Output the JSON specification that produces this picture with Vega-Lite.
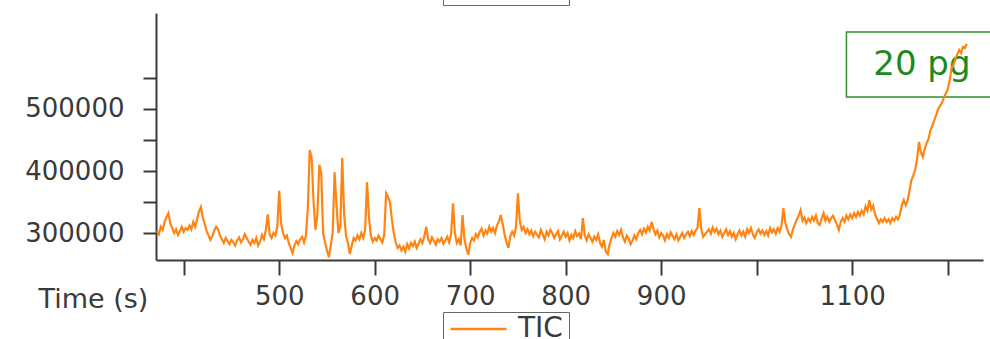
{
  "$schema": "https://vega.github.io/schema/vega-lite/v6.json",
  "width": 827,
  "height": 247,
  "autosize": {"type": "none"},
  "padding": {"left": 156, "top": 13, "right": 7, "bottom": 79},
  "background": "white",
  "config": {"view": {"stroke": null}, "font": "DejaVu Sans"},
  "datasets": {
    "tic": [
      {"t":372,"v":303000},{"t":374,"v":298000},{"t":376,"v":310000},{"t":378,"v":305000},{"t":380,"v":318000},{"t":382,"v":326000},{"t":384,"v":332000},{"t":386,"v":315000},{"t":388,"v":308000},{"t":390,"v":300000},
      {"t":392,"v":306000},{"t":394,"v":297000},{"t":396,"v":303000},{"t":398,"v":310000},{"t":400,"v":302000},{"t":402,"v":308000},{"t":404,"v":305000},{"t":406,"v":312000},{"t":408,"v":306000},{"t":410,"v":318000},
      {"t":412,"v":310000},{"t":414,"v":322000},{"t":416,"v":335000},{"t":418,"v":342000},{"t":420,"v":325000},{"t":422,"v":315000},{"t":424,"v":303000},{"t":426,"v":296000},{"t":428,"v":289000},{"t":430,"v":295000},
      {"t":432,"v":304000},{"t":434,"v":310000},{"t":436,"v":306000},{"t":438,"v":296000},{"t":440,"v":290000},{"t":442,"v":284000},{"t":444,"v":292000},{"t":446,"v":287000},{"t":448,"v":282000},{"t":450,"v":289000},
      {"t":452,"v":285000},{"t":454,"v":280000},{"t":456,"v":288000},{"t":458,"v":293000},{"t":460,"v":285000},{"t":462,"v":290000},{"t":464,"v":298000},{"t":466,"v":292000},{"t":468,"v":286000},{"t":470,"v":281000},
      {"t":472,"v":289000},{"t":474,"v":284000},{"t":476,"v":292000},{"t":478,"v":280000},{"t":480,"v":286000},{"t":482,"v":297000},{"t":484,"v":290000},{"t":486,"v":305000},{"t":488,"v":330000},{"t":490,"v":298000},
      {"t":492,"v":292000},{"t":494,"v":300000},{"t":496,"v":296000},{"t":498,"v":310000},{"t":500,"v":368000},{"t":502,"v":315000},{"t":504,"v":300000},{"t":506,"v":292000},{"t":508,"v":296000},{"t":510,"v":284000},
      {"t":512,"v":276000},{"t":514,"v":268000},{"t":516,"v":280000},{"t":518,"v":287000},{"t":520,"v":282000},{"t":522,"v":290000},{"t":524,"v":294000},{"t":526,"v":285000},{"t":528,"v":296000},{"t":530,"v":340000},
      {"t":532,"v":434000},{"t":534,"v":421000},{"t":536,"v":350000},{"t":538,"v":305000},{"t":540,"v":330000},{"t":542,"v":410000},{"t":544,"v":397000},{"t":546,"v":300000},{"t":548,"v":285000},{"t":550,"v":272000},
      {"t":552,"v":261000},{"t":554,"v":280000},{"t":556,"v":300000},{"t":558,"v":398000},{"t":560,"v":345000},{"t":562,"v":300000},{"t":564,"v":310000},{"t":566,"v":421000},{"t":568,"v":330000},{"t":570,"v":295000},
      {"t":572,"v":284000},{"t":574,"v":266000},{"t":576,"v":280000},{"t":578,"v":292000},{"t":580,"v":288000},{"t":582,"v":296000},{"t":584,"v":290000},{"t":586,"v":300000},{"t":588,"v":292000},{"t":590,"v":305000},
      {"t":592,"v":382000},{"t":594,"v":325000},{"t":596,"v":296000},{"t":598,"v":286000},{"t":600,"v":292000},{"t":602,"v":288000},{"t":604,"v":296000},{"t":606,"v":290000},{"t":608,"v":285000},{"t":610,"v":298000},
      {"t":612,"v":364000},{"t":614,"v":358000},{"t":616,"v":350000},{"t":618,"v":322000},{"t":620,"v":300000},{"t":622,"v":285000},{"t":624,"v":276000},{"t":626,"v":280000},{"t":628,"v":272000},{"t":630,"v":278000},
      {"t":632,"v":270000},{"t":634,"v":282000},{"t":636,"v":275000},{"t":638,"v":284000},{"t":640,"v":279000},{"t":642,"v":286000},{"t":644,"v":276000},{"t":646,"v":283000},{"t":648,"v":290000},{"t":650,"v":284000},
      {"t":652,"v":295000},{"t":654,"v":310000},{"t":656,"v":290000},{"t":658,"v":284000},{"t":660,"v":293000},{"t":662,"v":287000},{"t":664,"v":281000},{"t":666,"v":290000},{"t":668,"v":286000},{"t":670,"v":292000},
      {"t":672,"v":283000},{"t":674,"v":288000},{"t":676,"v":294000},{"t":678,"v":285000},{"t":680,"v":298000},{"t":682,"v":348000},{"t":684,"v":300000},{"t":686,"v":284000},{"t":688,"v":290000},{"t":690,"v":280000},
      {"t":692,"v":329000},{"t":694,"v":290000},{"t":696,"v":275000},{"t":698,"v":265000},{"t":700,"v":284000},{"t":702,"v":292000},{"t":704,"v":288000},{"t":706,"v":298000},{"t":708,"v":293000},{"t":710,"v":302000},
      {"t":712,"v":307000},{"t":714,"v":296000},{"t":716,"v":304000},{"t":718,"v":299000},{"t":720,"v":310000},{"t":722,"v":302000},{"t":724,"v":308000},{"t":726,"v":300000},{"t":728,"v":312000},{"t":730,"v":318000},
      {"t":732,"v":329000},{"t":734,"v":315000},{"t":736,"v":298000},{"t":738,"v":285000},{"t":740,"v":276000},{"t":742,"v":295000},{"t":744,"v":302000},{"t":746,"v":296000},{"t":748,"v":310000},{"t":750,"v":364000},
      {"t":752,"v":318000},{"t":754,"v":305000},{"t":756,"v":310000},{"t":758,"v":300000},{"t":760,"v":306000},{"t":762,"v":298000},{"t":764,"v":304000},{"t":766,"v":295000},{"t":768,"v":302000},{"t":770,"v":297000},
      {"t":772,"v":293000},{"t":774,"v":305000},{"t":776,"v":298000},{"t":778,"v":290000},{"t":780,"v":302000},{"t":782,"v":296000},{"t":784,"v":305000},{"t":786,"v":300000},{"t":788,"v":292000},{"t":790,"v":298000},
      {"t":792,"v":303000},{"t":794,"v":290000},{"t":796,"v":296000},{"t":798,"v":302000},{"t":800,"v":294000},{"t":802,"v":300000},{"t":804,"v":288000},{"t":806,"v":297000},{"t":808,"v":292000},{"t":810,"v":303000},
      {"t":812,"v":295000},{"t":814,"v":299000},{"t":816,"v":290000},{"t":818,"v":324000},{"t":820,"v":296000},{"t":822,"v":288000},{"t":824,"v":298000},{"t":826,"v":292000},{"t":828,"v":286000},{"t":830,"v":294000},
      {"t":832,"v":289000},{"t":834,"v":298000},{"t":836,"v":284000},{"t":838,"v":278000},{"t":840,"v":289000},{"t":842,"v":270000},{"t":844,"v":266000},{"t":846,"v":282000},{"t":848,"v":292000},{"t":850,"v":300000},
      {"t":852,"v":294000},{"t":854,"v":303000},{"t":856,"v":297000},{"t":858,"v":305000},{"t":860,"v":293000},{"t":862,"v":286000},{"t":864,"v":296000},{"t":866,"v":291000},{"t":868,"v":282000},{"t":870,"v":288000},
      {"t":872,"v":296000},{"t":874,"v":290000},{"t":876,"v":300000},{"t":878,"v":305000},{"t":880,"v":298000},{"t":882,"v":307000},{"t":884,"v":301000},{"t":886,"v":310000},{"t":888,"v":304000},{"t":890,"v":318000},
      {"t":892,"v":306000},{"t":894,"v":298000},{"t":896,"v":304000},{"t":898,"v":293000},{"t":900,"v":300000},{"t":902,"v":296000},{"t":904,"v":288000},{"t":906,"v":298000},{"t":908,"v":292000},{"t":910,"v":301000},
      {"t":912,"v":295000},{"t":914,"v":290000},{"t":916,"v":298000},{"t":918,"v":288000},{"t":920,"v":294000},{"t":922,"v":300000},{"t":924,"v":292000},{"t":926,"v":298000},{"t":928,"v":302000},{"t":930,"v":295000},
      {"t":932,"v":303000},{"t":934,"v":297000},{"t":936,"v":304000},{"t":938,"v":308000},{"t":940,"v":340000},{"t":942,"v":306000},{"t":944,"v":294000},{"t":946,"v":298000},{"t":948,"v":302000},{"t":950,"v":306000},
      {"t":952,"v":299000},{"t":954,"v":309000},{"t":956,"v":302000},{"t":958,"v":307000},{"t":960,"v":298000},{"t":962,"v":304000},{"t":964,"v":294000},{"t":966,"v":300000},{"t":968,"v":306000},{"t":970,"v":297000},
      {"t":972,"v":303000},{"t":974,"v":294000},{"t":976,"v":300000},{"t":978,"v":290000},{"t":980,"v":298000},{"t":982,"v":304000},{"t":984,"v":296000},{"t":986,"v":302000},{"t":988,"v":294000},{"t":990,"v":306000},
      {"t":992,"v":300000},{"t":994,"v":308000},{"t":996,"v":298000},{"t":998,"v":292000},{"t":1000,"v":301000},{"t":1002,"v":306000},{"t":1004,"v":299000},{"t":1006,"v":304000},{"t":1008,"v":297000},{"t":1010,"v":303000},
      {"t":1012,"v":296000},{"t":1014,"v":308000},{"t":1016,"v":301000},{"t":1018,"v":306000},{"t":1020,"v":299000},{"t":1022,"v":308000},{"t":1024,"v":302000},{"t":1026,"v":312000},{"t":1028,"v":340000},{"t":1030,"v":316000},
      {"t":1032,"v":306000},{"t":1034,"v":298000},{"t":1036,"v":294000},{"t":1038,"v":306000},{"t":1040,"v":314000},{"t":1042,"v":322000},{"t":1044,"v":328000},{"t":1046,"v":337000},{"t":1048,"v":320000},{"t":1050,"v":325000},
      {"t":1052,"v":316000},{"t":1054,"v":323000},{"t":1056,"v":318000},{"t":1058,"v":326000},{"t":1060,"v":320000},{"t":1062,"v":328000},{"t":1064,"v":316000},{"t":1066,"v":313000},{"t":1068,"v":323000},{"t":1070,"v":332000},
      {"t":1072,"v":320000},{"t":1074,"v":326000},{"t":1076,"v":318000},{"t":1078,"v":324000},{"t":1080,"v":328000},{"t":1082,"v":320000},{"t":1084,"v":314000},{"t":1086,"v":305000},{"t":1088,"v":318000},{"t":1090,"v":324000},
      {"t":1092,"v":318000},{"t":1094,"v":328000},{"t":1096,"v":322000},{"t":1098,"v":330000},{"t":1100,"v":324000},{"t":1102,"v":332000},{"t":1104,"v":326000},{"t":1106,"v":334000},{"t":1108,"v":328000},{"t":1110,"v":336000},
      {"t":1112,"v":330000},{"t":1114,"v":343000},{"t":1116,"v":336000},{"t":1118,"v":353000},{"t":1120,"v":338000},{"t":1122,"v":344000},{"t":1124,"v":330000},{"t":1126,"v":323000},{"t":1128,"v":316000},{"t":1130,"v":322000},
      {"t":1132,"v":318000},{"t":1134,"v":324000},{"t":1136,"v":318000},{"t":1138,"v":322000},{"t":1140,"v":316000},{"t":1142,"v":324000},{"t":1144,"v":320000},{"t":1146,"v":326000},{"t":1148,"v":322000},{"t":1150,"v":330000},
      {"t":1152,"v":345000},{"t":1154,"v":353000},{"t":1156,"v":345000},{"t":1158,"v":352000},{"t":1160,"v":368000},{"t":1162,"v":385000},{"t":1164,"v":393000},{"t":1166,"v":402000},{"t":1168,"v":420000},{"t":1170,"v":447000},
      {"t":1172,"v":430000},{"t":1174,"v":423000},{"t":1176,"v":436000},{"t":1178,"v":445000},{"t":1180,"v":452000},{"t":1182,"v":466000},{"t":1184,"v":473000},{"t":1186,"v":482000},{"t":1188,"v":490000},{"t":1190,"v":500000},
      {"t":1192,"v":505000},{"t":1194,"v":510000},{"t":1196,"v":518000},{"t":1198,"v":525000},{"t":1200,"v":531000},{"t":1202,"v":545000},{"t":1204,"v":565000},{"t":1206,"v":572000},{"t":1208,"v":580000},{"t":1210,"v":588000},
      {"t":1212,"v":595000},{"t":1214,"v":590000},{"t":1216,"v":600000},{"t":1218,"v":598000},{"t":1220,"v":605000}
    ],
    "note": [
      {"x1": 1094, "x2": 1250, "y1": 519400, "y2": 624200, "tx": 1173, "ty": 555000, "label": "20 pg"}
    ]
  },
  "layer": [
    {
      "data": {"name": "note"},
      "mark": {"type": "rect", "fill": "white", "stroke": "#2f8f2f", "strokeWidth": 1.5},
      "encoding": {
        "x": {"field": "x1", "type": "quantitative"},
        "x2": {"field": "x2"},
        "y": {"field": "y1", "type": "quantitative"},
        "y2": {"field": "y2"}
      }
    },
    {
      "data": {"name": "note"},
      "mark": {"type": "text", "color": "#1c8a1c", "fontSize": 34, "align": "center", "baseline": "alphabetic", "font": "DejaVu Sans"},
      "encoding": {
        "x": {"field": "tx", "type": "quantitative"},
        "y": {"field": "ty", "type": "quantitative"},
        "text": {"field": "label"}
      }
    },
    {
      "data": {"name": "tic"},
      "mark": {"type": "line", "strokeWidth": 2.2, "interpolate": "linear"},
      "encoding": {
        "x": {
          "field": "t", "type": "quantitative",
          "scale": {"domain": [371, 1237], "nice": false, "zero": false},
          "axis": {
            "values": [400, 500, 600, 700, 800, 900, 1000, 1100, 1200],
            "labelExpr": "datum.value == 400 || datum.value == 1000 || datum.value == 1200 ? '' : datum.label",
            "format": "d",
            "grid": false,
            "domainColor": "#3a3a3a", "domainWidth": 2,
            "tickColor": "#3a3a3a", "tickWidth": 2, "tickSize": 15,
            "labelFont": "DejaVu Sans", "labelFontSize": 26, "labelColor": "#3a3a3a", "labelPadding": 8,
            "labelFlush": false, "labelOverlap": false,
            "title": "Time (s)", "titleFont": "DejaVu Sans", "titleFontSize": 27, "titleFontWeight": "normal",
            "titleColor": "#3a3a3a", "titleX": -63, "titleY": 47, "titleAlign": "center", "titleBaseline": "alphabetic"
          }
        },
        "y": {
          "field": "v", "type": "quantitative",
          "scale": {"domain": [256500, 654800], "nice": false, "zero": false},
          "axis": {
            "values": [300000, 350000, 400000, 450000, 500000, 550000],
            "labelExpr": "datum.value % 100000 == 0 ? format(datum.value, 'd') : ''",
            "grid": false,
            "domainColor": "#3a3a3a", "domainWidth": 2,
            "tickColor": "#3a3a3a", "tickWidth": 2, "tickSize": 13,
            "labelFont": "DejaVu Sans", "labelFontSize": 26, "labelColor": "#3a3a3a", "labelPadding": 19,
            "labelOverlap": false, "labelFlush": false,
            "title": null
          }
        },
        "color": {
          "datum": "TIC",
          "scale": {"range": ["#ff8412"]},
          "legend": {
            "orient": "none", "legendX": 287, "legendY": 299, "title": null,
            "symbolType": "stroke", "symbolSize": 3136, "symbolStrokeWidth": 2.5, "clipHeight": 22,
            "labelFont": "DejaVu Sans", "labelFontSize": 28, "labelColor": "#3a3a3a", "labelOffset": 10,
            "labelExpr": "datum.label + '  '",
            "strokeColor": "#666666", "padding": 6, "fillColor": "white"
          }
        }
      }
    },
    {
      "data": {"name": "tic"},
      "mark": {"type": "line", "opacity": 0},
      "encoding": {
        "x": {"field": "t", "type": "quantitative"},
        "y": {"field": "v", "type": "quantitative"},
        "color": {
          "datum": "TIC",
          "scale": {"range": ["#ff8412"]},
          "legend": {
            "orient": "none", "legendX": 287, "legendY": -45, "title": null,
            "symbolType": "stroke", "symbolSize": 3136, "symbolStrokeWidth": 2.5, "symbolOpacity": 1, "clipHeight": 22,
            "labelFont": "DejaVu Sans", "labelFontSize": 28, "labelColor": "#3a3a3a", "labelOffset": 10,
            "labelExpr": "datum.label + '  '",
            "strokeColor": "#666666", "padding": 6, "fillColor": "white"
          }
        }
      }
    }
  ],
  "resolve": {"scale": {"color": "independent"}, "legend": {"color": "independent"}}
}
